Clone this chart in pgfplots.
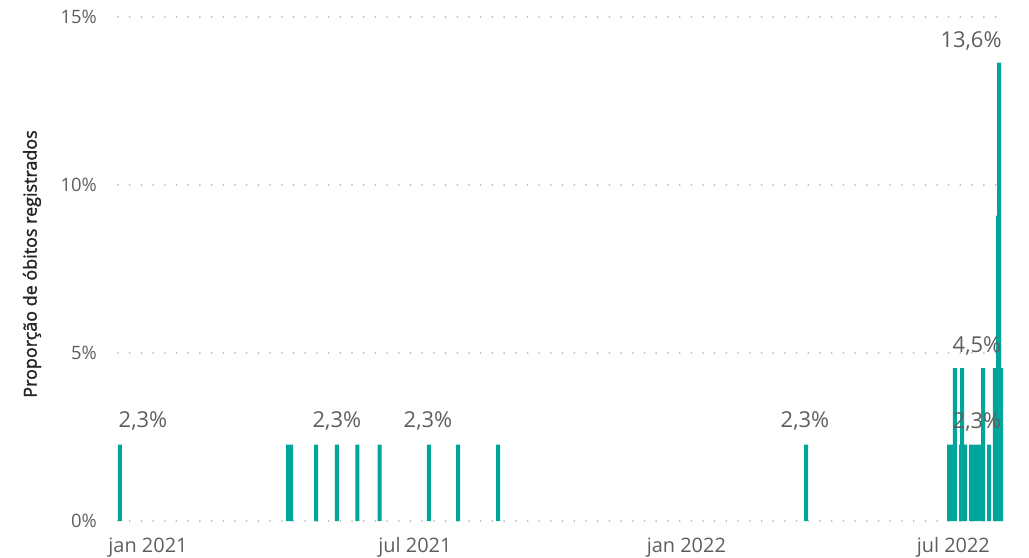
\documentclass[border=0pt]{standalone}
\usepackage{pgfplots}
\pgfplotsset{compat=1.18}
\usepackage{fontspec}
\setmainfont{Open Sans}
\newfontfamily\semib[FakeBold=1.6]{Open Sans}
\definecolor{barc}{RGB}{0,166,154}
\definecolor{tickc}{HTML}{605E5C}
\definecolor{labc}{HTML}{605E5C}
\definecolor{titc}{HTML}{252423}
\definecolor{gridc}{HTML}{BEBCBA}
\begin{document}
\begin{tikzpicture}
\begin{axis}[
  scale only axis, width=885bp, height=504bp,
  xmin=-20.34, xmax=579.66, ymin=0, ymax=15,
  clip=false,
  axis line style={draw=none},
  tick style={draw=none},
  xtick={0,181,365,546},
  xticklabels={jan 2021, jul 2021, jan 2022, jul 2022},
  ytick={0,5,10,15},
  yticklabels={0\%,5\%,10\%,15\%},
  ymajorgrids,
  grid style={gridc, line width=2bp, line cap=round, dash pattern=on 0bp off 11.7bp},
  xticklabel style={font=\fontsize{20}{24}\selectfont, text=tickc, anchor=base, inner sep=0pt, yshift=-31bp},
  yticklabel style={font=\fontsize{18.5}{22}\selectfont, text=tickc, anchor=east, inner sep=0pt, xshift=-21bp},
  ylabel={Proporção de óbitos registrados},
  every axis y label/.style={at={(axis description cs:-0.0972,0.51)}, rotate=90, anchor=center, font=\fontsize{18}{21}\selectfont\semib, text=titc},
]
\addplot[ybar, bar width=2.71, fill=barc, draw=none] coordinates {
(-19,2.27)
(95,2.27)(97,2.27)
(114,2.27)(128,2.27)(142,2.27)(157,2.27)
(190.5,2.27)(210.2,2.27)(237.3,2.27)
(446.1,2.27)
(543.1,2.27)(544.4,2.27)(547.1,4.55)
(551.2,2.27)(551.9,4.55)(553.9,2.27)
(558.0,2.27)(560.7,2.27)(563.4,2.27)(566.1,4.55)
(570.2,2.27)
(574.2,4.55)(578.3,4.55)(576.3,9.09)(577.0,13.64)
};
\begin{scope}[every node/.style={anchor=base, inner sep=0pt, font=\fontsize{22}{26}\selectfont, text=labc}]
\node at (axis cs:-3.4,2.77) {2,3\%};
\node at (axis cs:128.1,2.77) {2,3\%};
\node at (axis cs:189.8,2.77) {2,3\%};
\node at (axis cs:445.4,2.77) {2,3\%};
\node at (axis cs:562.0,2.74) {2,3\%};
\node at (axis cs:562.0,5.0) {4,5\%};
\node at (axis cs:558.0,14.1) {13,6\%};
\end{scope}
\end{axis}
\pgfresetboundingbox
\useasboundingbox (-118bp,-37bp) rectangle (911bp,521bp);
\end{tikzpicture}
\end{document}
